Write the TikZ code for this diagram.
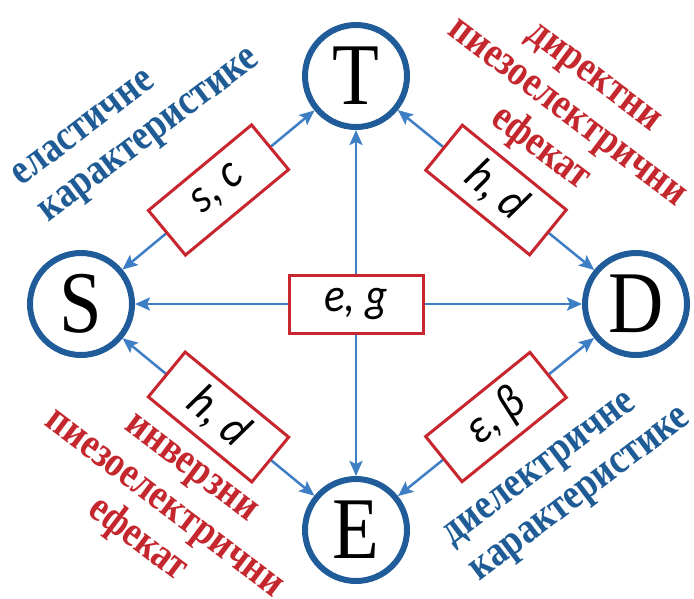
\documentclass[tikz,border=0pt]{standalone}
\usepackage{fontspec}
\setmainfont{Liberation Serif}
\newfontfamily\boxfont[FakeStretch=0.9]{Carlito}
\newfontfamily\lblfont[FakeStretch=0.85]{Liberation Serif}
\newfontfamily\letterfont[FakeStretch=0.87]{Liberation Serif}
\usetikzlibrary{arrows.meta}
\definecolor{circblue}{RGB}{31,92,153}
\definecolor{lineblue}{RGB}{62,126,196}
\definecolor{boxred}{RGB}{200,38,46}
\definecolor{txtblue}{RGB}{31,92,150}
\definecolor{txtred}{RGB}{196,40,46}
\begin{document}
\begin{tikzpicture}[x=1pt,y=-1pt,
 state/.style={circle, draw=circblue, line width=6pt, minimum size=102pt, inner sep=0pt, font=\letterfont\fontsize{88}{88}\selectfont},
 conn/.style={draw=lineblue, line width=2.5pt, >={Stealth[length=15pt,width=13pt,inset=3pt]}, <->},
 coef/.style={draw=boxred, line width=3pt, fill=white, minimum width=134pt, minimum height=58pt, inner sep=0pt, font=\boxfont\itshape\fontsize{48}{48}\selectfont},
 bluelbl/.style={text=txtblue, font=\lblfont\bfseries\fontsize{43}{45}\selectfont, align=left, rotate=37},
 redlbl/.style={text=txtred, font=\lblfont\bfseries\fontsize{43}{45}\selectfont, align=center, rotate=-37},
]
\useasboundingbox (0,0) rectangle (694,598);
\node[state] (T) at (356,76) {T};
\node[state] (S) at (81,304) {S};
\node[state] (D) at (636,304) {D};
\node[state] (E) at (356,530) {E};
\draw[conn] (S) -- (D);
\draw[conn] (T) -- (E);
\node[coef] (eg) at (356,304) {e, g};
\draw[conn] (S) -- node[coef, sloped] (sc) {s, c} (T);
\draw[conn] (T) -- node[coef, sloped] (hd1) {h, d} (D);
\draw[conn] (S) -- node[coef, sloped] (hd2) {h, d} (E);
\draw[conn] (E) -- node[coef, sloped] (eb) {ε, β} (D);
\node[bluelbl] (elast) at (138,120) {еластичне\\карактеристике};
\node[redlbl] (direct) at (565,116) {директни\\пиезоелектрични\\ефекат};
\node[redlbl] (inverz) at (162,507) {инверзни\\пиезоелектрични\\ефекат};
\node[bluelbl] (dielek) at (569,479) {диелектричне\\карактеристике};
\end{tikzpicture}
\end{document}
